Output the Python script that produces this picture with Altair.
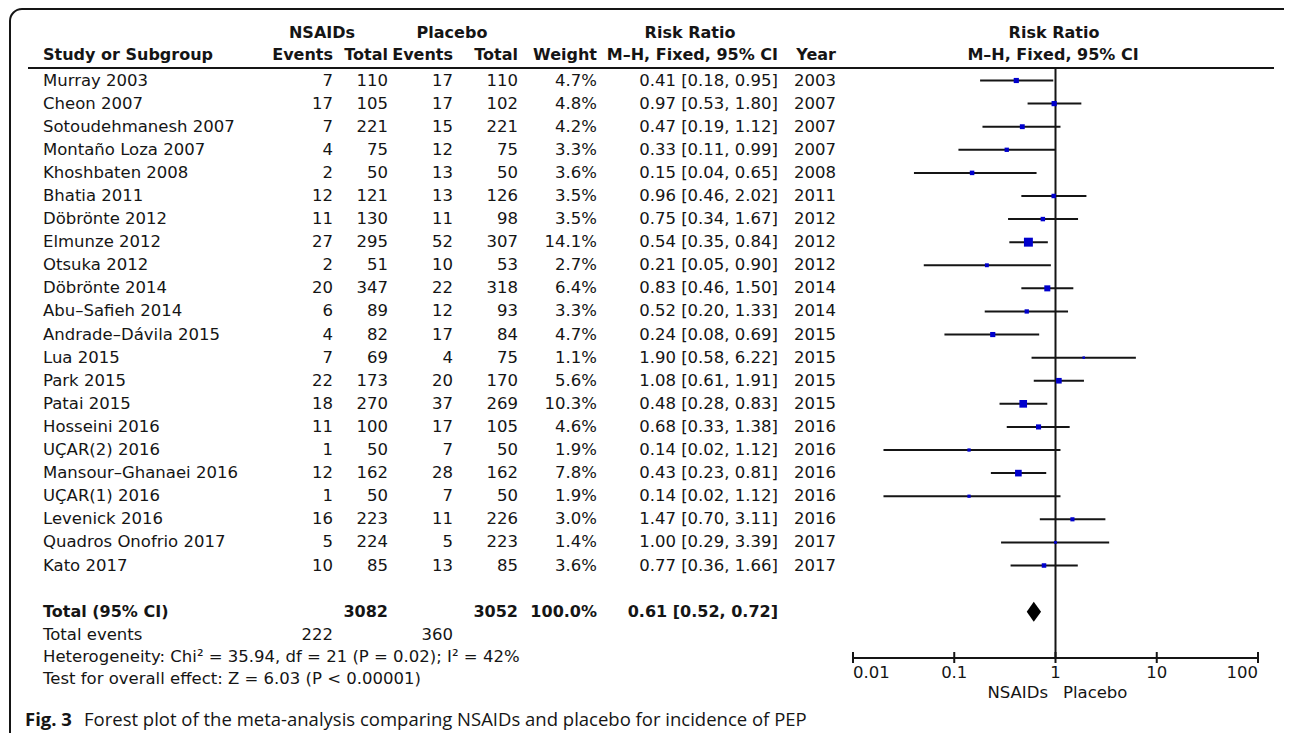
import altair as alt
import pandas as pd

# ---------------- data ----------------
studies = ["Murray 2003", "Cheon 2007", "Sotoudehmanesh 2007", "Montaño Loza 2007",
           "Khoshbaten 2008", "Bhatia 2011", "Döbrönte 2012", "Elmunze 2012",
           "Otsuka 2012", "Döbrönte 2014", "Abu–Safieh 2014", "Andrade–Dávila 2015",
           "Lua 2015", "Park 2015", "Patai 2015", "Hosseini 2016", "UÇAR(2) 2016",
           "Mansour–Ghanaei 2016", "UÇAR(1) 2016", "Levenick 2016",
           "Quadros Onofrio 2017", "Kato 2017"]
nsaid_events = [7, 17, 7, 4, 2, 12, 11, 27, 2, 20, 6, 4, 7, 22, 18, 11, 1, 12, 1, 16, 5, 10]
nsaid_total = [110, 105, 221, 75, 50, 121, 130, 295, 51, 347, 89, 82, 69, 173, 270, 100, 50, 162, 50, 223, 224, 85]
placebo_events = [17, 17, 15, 12, 13, 13, 11, 52, 10, 22, 12, 17, 4, 20, 37, 17, 7, 28, 7, 11, 5, 13]
placebo_total = [110, 102, 221, 75, 50, 126, 98, 307, 53, 318, 93, 84, 75, 170, 269, 105, 50, 162, 50, 226, 223, 85]
weights = [4.7, 4.8, 4.2, 3.3, 3.6, 3.5, 3.5, 14.1, 2.7, 6.4, 3.3, 4.7, 1.1, 5.6, 10.3, 4.6, 1.9, 7.8, 1.9, 3.0, 1.4, 3.6]
rr = [0.41, 0.97, 0.47, 0.33, 0.15, 0.96, 0.75, 0.54, 0.21, 0.83, 0.52, 0.24, 1.90, 1.08, 0.48, 0.68, 0.14, 0.43, 0.14, 1.47, 1.00, 0.77]
ci_low = [0.18, 0.53, 0.19, 0.11, 0.04, 0.46, 0.34, 0.35, 0.05, 0.46, 0.20, 0.08, 0.58, 0.61, 0.28, 0.33, 0.02, 0.23, 0.02, 0.70, 0.29, 0.36]
ci_high = [0.95, 1.80, 1.12, 0.99, 0.65, 2.02, 1.67, 0.84, 0.90, 1.50, 1.33, 0.69, 6.22, 1.91, 0.83, 1.38, 1.12, 0.81, 1.12, 3.11, 3.39, 1.66]
years = [2003, 2007, 2007, 2007, 2008, 2011, 2012, 2012, 2012, 2014, 2014, 2015, 2015, 2015, 2015, 2016, 2016, 2016, 2016, 2016, 2017, 2017]

total_label = "Total (95% CI)"
total_nsaid_n = 3082
total_placebo_n = 3052
total_weight = "100.0%"
total_rr = 0.61
total_low = 0.52
total_high = 0.72
total_events_nsaid = 222
total_events_placebo = 360
heterogeneity_text = "Heterogeneity: Chi² = 35.94, df = 21 (P = 0.02); I² = 42%"
overall_text = "Test for overall effect: Z = 6.03 (P < 0.00001)"

tick_values = [0.01, 0.1, 1, 10, 100]
tick_labels = ["0.01", "0.1", "1", "10", "100"]

caption_bold = "Fig. 3"
caption_rest = "Forest plot of the meta-analysis comparing NSAIDs and placebo for incidence of PEP"

# ---------------- layout / style ----------------
FONT = "DejaVu Sans"
CAP_FONT = "Open Sans"
TXT = "#151515"
LINE = "#151515"
FS = 16.5
FSB = 16
W, H = 1276, 725


def px(v):  # page x -> chart x
    return v - 8


def py(v):  # page y -> chart y
    return v - 8


n = len(studies)
df = pd.DataFrame({
    "study": studies,
    "ev1": [str(v) for v in nsaid_events],
    "tot1": [str(v) for v in nsaid_total],
    "ev2": [str(v) for v in placebo_events],
    "tot2": [str(v) for v in placebo_total],
    "weight": weights,
    "wtxt": [f"{w:.1f}%" for w in weights],
    "rr": rr,
    "lo": ci_low,
    "hi": ci_high,
    "citxt": [f"{r:.2f} [{l:.2f}, {h:.2f}]" for r, l, h in zip(rr, ci_low, ci_high)],
    "year": [str(y) for y in years],
    "row": list(range(n)),
})

total_row = n + 1
tot = pd.DataFrame({
    "row": [total_row],
    "label": [total_label],
    "tot1": [str(total_nsaid_n)],
    "tot2": [str(total_placebo_n)],
    "wtxt": [total_weight],
    "citxt": [f"{total_rr:.2f} [{total_low:.2f}, {total_high:.2f}]"],
})

half = 10 / ((565.5 - 80.5) / (n - 1))
dia = pd.DataFrame({
    "x": [total_low, total_rr, total_high],
    "y1": [total_row, total_row - half, total_row],
    "y2": [total_row, total_row + half, total_row],
})

ticks = pd.DataFrame({"v": tick_values, "lab": tick_labels})

XS = alt.Scale(type="log", domain=[0.01, 100], range=[px(853), px(1258)], nice=False)
YS = alt.Scale(domain=[0, n - 1], range=[py(80.5), py(565.5)], nice=False, zero=False)

one = alt.Data(values=[{}])


def column(data, field, xpos, align, bold=False):
    return alt.Chart(data).mark_text(
        align=align, baseline="middle", font=FONT,
        fontSize=FSB if bold else FS, fontWeight="bold" if bold else "normal", color=TXT
    ).encode(
        x=alt.value(px(xpos)),
        y=alt.Y("row:Q", scale=YS, axis=None),
        text=alt.Text(f"{field}:N"),
    )


def label(text, xpos, ypos, align="left", bold=False, size=None, font=FONT):
    return alt.Chart(one).mark_text(
        text=text, align=align, baseline="middle", font=font,
        fontSize=size if size else (FSB if bold else FS),
        fontWeight="bold" if bold else "normal", color=TXT
    ).encode(x=alt.value(px(xpos)), y=alt.value(py(ypos)))


layers = []

# frame
layers.append(alt.Chart(one).mark_rect(
    fillOpacity=0, stroke=LINE, strokeWidth=2, cornerRadius=12
).encode(x=alt.value(px(10)), x2=alt.value(px(1300)), y=alt.value(py(9)), y2=alt.value(py(800))))

# header texts
R1, R2 = 33, 55
layers += [
    label("NSAIDs", 322, R1, "center", True),
    label("Placebo", 452, R1, "center", True),
    label("Risk Ratio", 690, R1, "center", True),
    label("Risk Ratio", 1054, R1, "center", True),
    label("Study or Subgroup", 43, R2, "left", True),
    label("Events", 333, R2, "right", True),
    label("Total", 388, R2, "right", True),
    label("Events", 453, R2, "right", True),
    label("Total", 518, R2, "right", True),
    label("Weight", 597, R2, "right", True),
    label("M–H, Fixed, 95% CI", 778, R2, "right", True),
    label("Year", 836, R2, "right", True),
    label("M–H, Fixed, 95% CI", 1053, R2, "center", True),
]

# header underline
layers.append(alt.Chart(one).mark_rule(color=LINE, strokeWidth=2).encode(
    x=alt.value(px(28)), x2=alt.value(px(1274)), y=alt.value(py(68))))

# study rows
layers += [
    column(df, "study", 43, "left"),
    column(df, "ev1", 333, "right"),
    column(df, "tot1", 388, "right"),
    column(df, "ev2", 453, "right"),
    column(df, "tot2", 518, "right"),
    column(df, "wtxt", 597, "right"),
    column(df, "citxt", 778, "right"),
    column(df, "year", 836, "right"),
]

# total row
layers += [
    column(tot, "label", 43, "left", True),
    column(tot, "tot1", 388, "right", True),
    column(tot, "tot2", 518, "right", True),
    column(tot, "wtxt", 597, "right", True),
    column(tot, "citxt", 778, "right", True),
]

# footer
layers += [
    label("Total events", 43, 635),
    label(str(total_events_nsaid), 333, 635, "right"),
    label(str(total_events_placebo), 453, 635, "right"),
    label(heterogeneity_text, 43, 657),
    label(overall_text, 43, 679),
    label(caption_bold, 25, 720, "left", True, 18.5, CAP_FONT),
    label(caption_rest, 84, 720, "left", False, 18.5, CAP_FONT),
]

# forest: line of no effect
layers.append(alt.Chart(one).mark_rule(color=LINE, strokeWidth=2).encode(
    x=alt.XDatum(1, scale=XS, axis=None), y=alt.value(py(68)), y2=alt.value(py(658))))

# axis line, ticks, labels
layers.append(alt.Chart(one).mark_rule(color=LINE, strokeWidth=2).encode(
    x=alt.XDatum(tick_values[0], scale=XS, axis=None), x2=alt.X2Datum(tick_values[-1]),
    y=alt.value(py(658))))
layers.append(alt.Chart(ticks).mark_rule(color=LINE, strokeWidth=2).encode(
    x=alt.X("v:Q", scale=XS, axis=None), y=alt.value(py(652)), y2=alt.value(py(663))))


def tick_text(data, align):
    return alt.Chart(data).mark_text(
        align=align, baseline="middle", font=FONT, fontSize=FS, color=TXT
    ).encode(x=alt.X("v:Q", scale=XS, axis=None), y=alt.value(py(673)), text="lab:N")


layers += [
    tick_text(ticks.iloc[[0]], "left"),
    tick_text(ticks.iloc[1:-1], "center"),
    tick_text(ticks.iloc[[-1]], "right"),
    label("NSAIDs", 1048, 693, "right"),
    label("Placebo", 1063, 693, "left"),
]

# CI lines and weight squares
layers.append(alt.Chart(df).mark_rule(color=LINE, strokeWidth=2).encode(
    x=alt.X("lo:Q", scale=XS, axis=None), x2="hi:Q",
    y=alt.Y("row:Q", scale=YS, axis=None)))
layers.append(alt.Chart(df).mark_square(filled=True, color="#0000cc", opacity=1).encode(
    x=alt.X("rr:Q", scale=XS, axis=None),
    y=alt.Y("row:Q", scale=YS, axis=None),
    size=alt.Size("weight:Q", scale=alt.Scale(domain=[0, 14.1], range=[0, 80]), legend=None)))

# pooled diamond
layers.append(alt.Chart(dia).mark_area(color="#000000", opacity=1).encode(
    x=alt.X("x:Q", scale=XS, axis=None),
    y=alt.Y("y1:Q", scale=YS, axis=None), y2="y2:Q"))

chart = alt.layer(*layers).properties(
    width=W, height=H, autosize=alt.AutoSizeParams(type="none"), padding=0
).configure_view(stroke=None)

chart.save("out.html", embed_options={"renderer": "svg", "actions": False})
